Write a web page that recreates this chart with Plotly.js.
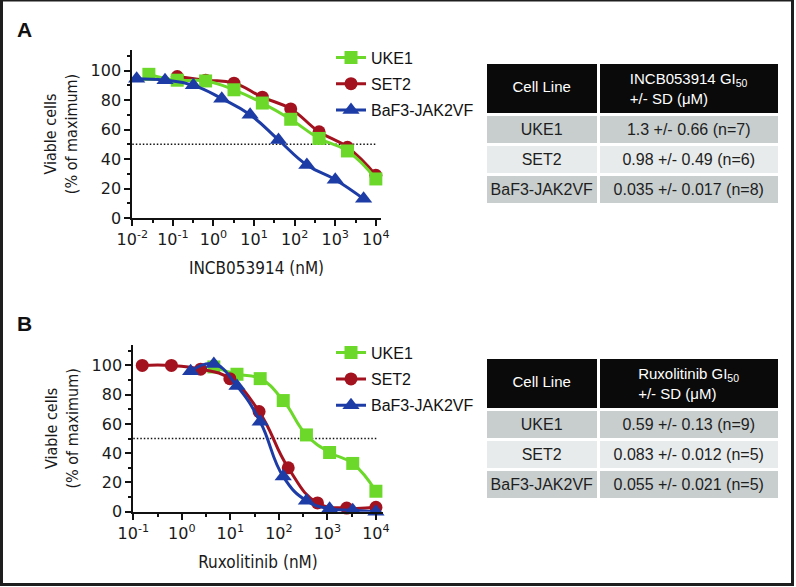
<!DOCTYPE html>
<html>
<head>
<meta charset="utf-8">
<script src="https://cdn.plot.ly/plotly-3.0.1.min.js"></script>
<style>
  html, body { margin: 0; padding: 0; background: #ffffff; }
  #chart { width: 796px; height: 587px; }
</style>
</head>
<body>
<div id="chart"></div>
<script>
// ---------- data ----------
const cellLines = ['UKE1', 'SET2', 'BaF3-JAK2VF'];

// Panel A : INCB053914 (nM) vs viable cells (% of maximum)
const incbDoseUKE1 = [0.0256, 0.128, 0.64, 3.2, 16, 80, 400, 2000, 10000];
const incbViableUKE1 = [97.5, 93.5, 93, 87, 78, 67, 54, 45.5, 26.5];
const incbDoseSET2 = [0.128, 0.64, 3.2, 16, 80, 400, 2000, 10000];
const incbViableSET2 = [96, 93.5, 91.5, 82, 74, 58.5, 48, 29];
const incbDoseBaF3 = [0.0128, 0.064, 0.32, 1.6, 8, 40, 200, 1000, 5000];
const incbViableBaF3 = [94.5, 93.5, 90, 81, 70, 53, 36, 26, 13];

// Panel B : Ruxolitinib (nM) vs viable cells (% of maximum)
const ruxDoseUKE1 = [4.57, 13.7, 41.2, 123, 370, 1111, 3333, 10000];
const ruxViableUKE1 = [99, 94, 91, 76, 52.5, 40.5, 33, 14];
const ruxDoseSET2 = [0.153, 0.61, 2.44, 9.77, 39.1, 156, 625, 2500, 10000];
const ruxViableSET2 = [100, 100, 97.5, 91, 68.5, 30, 6, 2.5, 3];
const ruxDoseBaF3 = [1.52, 4.57, 13.7, 41.2, 123, 370, 1111, 3333, 10000];
const ruxViableBaF3 = [96, 101, 86, 61.5, 24, 7.5, 2, 1, 0];

// GI50 tables
const incbHeader = ['Cell Line', 'INCB053914 GI<sub>50</sub><br>+/- SD (μM)'];
const incbGI50 = ['1.3 +/- 0.66 (n=7)', '0.98 +/- 0.49 (n=6)', '0.035 +/- 0.017 (n=8)'];
const ruxHeader = ['Cell Line', 'Ruxolitinib GI<sub>50</sub><br>+/- SD (μM)'];
const ruxGI50 = ['0.59 +/- 0.13 (n=9)', '0.083 +/- 0.012 (n=5)', '0.055 +/- 0.021 (n=5)'];

// axis ticks
const xTickValsA = [0.01, 0.1, 1, 10, 100, 1000, 10000];
const xTickTextA = ['10<sup>-2</sup>', '10<sup>-1</sup>', '10<sup>0</sup>', '10<sup>1</sup>', '10<sup>2</sup>', '10<sup>3</sup>', '10<sup>4</sup>'];
const xMinorA = [0.0316, 0.316, 3.16, 31.6, 316, 3162];
const xTickValsB = [0.1, 1, 10, 100, 1000, 10000];
const xTickTextB = ['10<sup>-1</sup>', '10<sup>0</sup>', '10<sup>1</sup>', '10<sup>2</sup>', '10<sup>3</sup>', '10<sup>4</sup>'];
const xMinorB = [0.316, 3.16, 31.6, 316, 3162];
const yTickVals = [0, 20, 40, 60, 80, 100];
const yMinor = [10, 30, 50, 70, 90, 110];
const gi50Level = 50;

// ---------- styling ----------
const W = 796, H = 587;
const px = v => v / W;
const py = v => (H - v) / H;

const GREEN = '#6cd92a', RED = '#a3131f', BLUE = '#1d3ca6';
const TICKFONT = {family: 'DejaVu Sans, Liberation Sans, sans-serif', size: 16, color: '#1a1a1a'};
const NARROW = 'Liberation Sans Narrow, DejaVu Sans Condensed, Arial Narrow, sans-serif';
const SANS = 'Liberation Sans, Arial, Helvetica, sans-serif';

function series(x, y, name, color, symbol, size, xa, ya, lg, rank) {
  return {
    type: 'scatter', mode: 'lines+markers', x: x, y: y, name: name,
    xaxis: xa, yaxis: ya, legend: lg, legendgroup: lg + name, legendrank: rank,
    line: {color: color, width: 3, shape: 'spline', smoothing: 1.3},
    marker: {color: color, symbol: symbol, size: size, line: {width: 0}},
    cliponaxis: false, hoverinfo: 'x+y'
  };
}

// drawing order: SET2 underneath, then UKE1, BaF3-JAK2VF on top
const traces = [
  series(incbDoseSET2, incbViableSET2, cellLines[1], RED, 'circle', 13, 'x', 'y', 'legend', 2),
  series(incbDoseUKE1, incbViableUKE1, cellLines[0], GREEN, 'square', 13, 'x', 'y', 'legend', 1),
  series(incbDoseBaF3, incbViableBaF3, cellLines[2], BLUE, 'triangle-up', 15, 'x', 'y', 'legend', 3),
  series(ruxDoseUKE1, ruxViableUKE1, cellLines[0], GREEN, 'square', 13, 'x2', 'y2', 'legend2', 1),
  series(ruxDoseSET2, ruxViableSET2, cellLines[1], RED, 'circle', 13, 'x2', 'y2', 'legend2', 2),
  series(ruxDoseBaF3, ruxViableBaF3, cellLines[2], BLUE, 'triangle-up', 15, 'x2', 'y2', 'legend2', 3)
];

// first header cell: a small blank leading line centres "Cell Line" vertically
function headerCells(header) {
  return ['\u00a0<br><span style="font-size:15px">' + header[0] + '</span>', header[1]];
}

const DARK = '#c8cece', LIGHT = '#e8ebeb';
function gi50Table(header, values, y0, y1) {
  return {
    type: 'table',
    domain: {x: [px(485), px(779)], y: [py(y1), py(y0)]},
    columnwidth: [113, 180],
    header: {
      values: headerCells(header),
      height: 50,
      align: 'center',
      fill: {color: '#0a0a0a'},
      line: {color: '#ffffff', width: 3},
      font: {family: SANS, size: [10, 15], color: '#ffffff'}
    },
    cells: {
      values: [cellLines, values],
      height: 30,
      align: 'center',
      fill: {color: [[DARK, LIGHT, DARK], [DARK, LIGHT, DARK]]},
      line: {color: '#ffffff', width: 3},
      font: {family: SANS, size: 16, color: '#1e1e1e'}
    }
  };
}
traces.push(gi50Table(incbHeader, incbGI50, 62, 210));
traces.push(gi50Table(ruxHeader, ruxGI50, 357, 505));

function xAxis(domain, range, tv, tt, minor, title, anchor) {
  return {
    type: 'log', domain: domain, range: range, anchor: anchor,
    tickmode: 'array', tickvals: tv, ticktext: tt,
    ticks: 'outside', ticklen: 6, tickwidth: 2, tickcolor: '#111',
    minor: {tickmode: 'array', tickvals: minor, ticks: 'outside', ticklen: 3, tickwidth: 2, tickcolor: '#111', showgrid: false},
    showline: true, linewidth: 2, linecolor: '#111',
    showgrid: false, zeroline: false, automargin: false,
    tickfont: TICKFONT,
    title: {text: title, font: {family: NARROW, size: 17, color: '#1a1a1a'}, standoff: 14}
  };
}
function yAxis(domain, anchor) {
  return {
    domain: domain, range: [0, 114], anchor: anchor,
    tickmode: 'array', tickvals: yTickVals,
    ticks: 'outside', ticklen: 6, tickwidth: 2, tickcolor: '#111',
    minor: {tickmode: 'array', tickvals: yMinor, ticks: 'outside', ticklen: 3, tickwidth: 2, tickcolor: '#111', showgrid: false},
    showline: true, linewidth: 2, linecolor: '#111',
    showgrid: false, zeroline: false, automargin: false,
    tickfont: TICKFONT,
    title: {text: 'Viable cells<br>(% of maximum)', font: {family: NARROW, size: 16, color: '#1a1a1a'}, standoff: 9}
  };
}

const legendBase = {
  xanchor: 'left', yanchor: 'top', bgcolor: 'rgba(0,0,0,0)',
  font: {family: SANS, size: 16, color: '#111'},
  traceorder: 'grouped', tracegroupgap: 2.5, itemwidth: 30
};

const layout = {
  width: W, height: H,
  margin: {l: 0, r: 0, t: 0, b: 0},
  paper_bgcolor: '#ffffff', plot_bgcolor: '#ffffff',
  showlegend: true,
  xaxis: xAxis([px(132.3), px(380.7)], [-2, 4.12], xTickValsA, xTickTextA, xMinorA, 'INCB053914 (nM)', 'y'),
  yaxis: yAxis([py(218), py(50)], 'x'),
  xaxis2: xAxis([px(133.3), px(382.7)], [-1, 4.14], xTickValsB, xTickTextB, xMinorB, 'Ruxolitinib (nM)', 'y2'),
  yaxis2: yAxis([py(511.7), py(345)], 'x2'),
  legend: Object.assign({x: px(331), y: py(40.5)}, legendBase),
  legend2: Object.assign({x: px(331), y: py(335.7)}, legendBase),
  shapes: [
    {type: 'line', xref: 'x domain', yref: 'y', x0: 0, x1: 0.98, y0: gi50Level, y1: gi50Level,
     line: {color: '#111', width: 1.5, dash: '1.5px,2px'}, layer: 'below'},
    {type: 'line', xref: 'x2 domain', yref: 'y2', x0: 0, x1: 0.98, y0: gi50Level, y1: gi50Level,
     line: {color: '#111', width: 1.5, dash: '1.5px,2px'}, layer: 'below'},
    // figure frame
    {type: 'line', xref: 'paper', yref: 'paper', x0: px(1.5), x1: px(1.5), y0: py(0), y1: py(586), line: {color: '#1e1e1e', width: 3}},
    {type: 'line', xref: 'paper', yref: 'paper', x0: px(792.5), x1: px(792.5), y0: py(0), y1: py(586), line: {color: '#1e1e1e', width: 3}},
    {type: 'line', xref: 'paper', yref: 'paper', x0: px(0), x1: px(794), y0: py(0.75), y1: py(0.75), line: {color: '#1e1e1e', width: 1.5}},
    {type: 'line', xref: 'paper', yref: 'paper', x0: px(0), x1: px(794), y0: py(584.5), y1: py(584.5), line: {color: '#1e1e1e', width: 3}}
  ],
  annotations: [
    {text: '<b>A</b>', xref: 'paper', yref: 'paper', x: px(24), y: py(29.5), showarrow: false,
     font: {family: SANS, size: 21, color: '#111'}, xanchor: 'center', yanchor: 'middle'},
    {text: '<b>B</b>', xref: 'paper', yref: 'paper', x: px(25), y: py(323.5), showarrow: false,
     font: {family: SANS, size: 21, color: '#111'}, xanchor: 'center', yanchor: 'middle'}
  ]
};

Plotly.newPlot('chart', traces, layout, {displayModeBar: false, staticPlot: true});
</script>
</body>
</html>
